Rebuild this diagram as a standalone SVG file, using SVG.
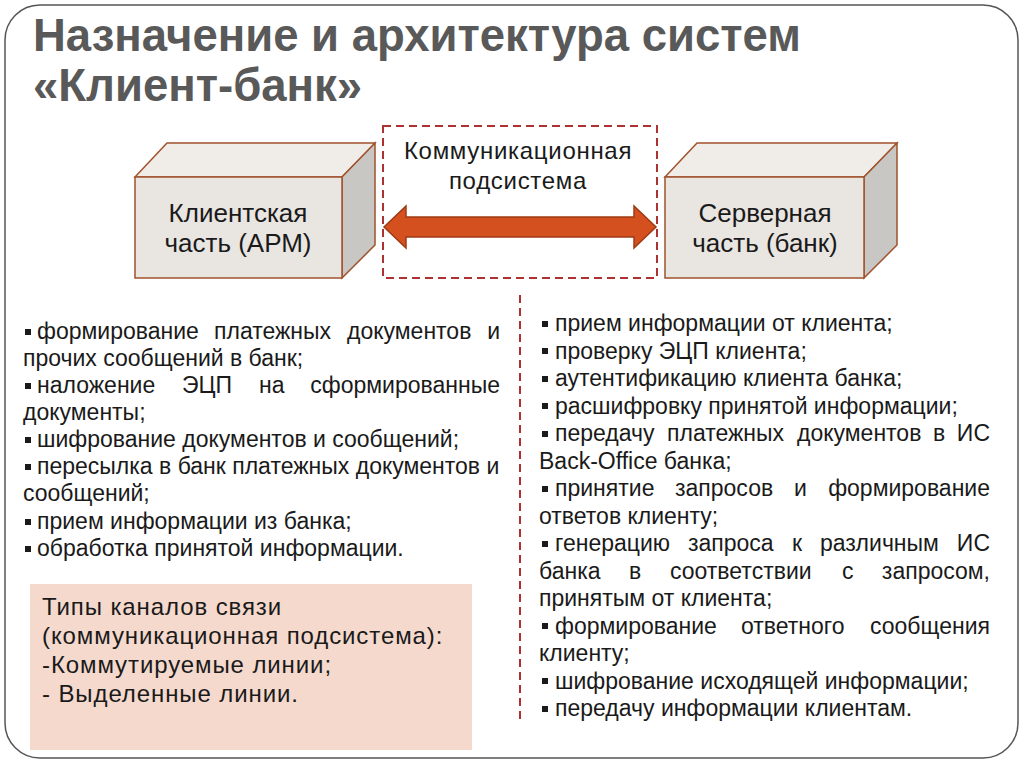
<svg xmlns="http://www.w3.org/2000/svg" xmlns:xlink="http://www.w3.org/1999/xlink" width="1024" height="767" viewBox="0 0 1024 767">
<style>
.t{font-family:"Liberation Sans",Arial,sans-serif;font-size:23px;fill:#1a1a1a}
.e{text-anchor:end}
.title{font-family:"Liberation Sans",Arial,sans-serif;font-size:45.5px;font-weight:bold;fill:#595959}
.lbl{font-family:"Liberation Sans",Arial,sans-serif;font-size:26px;fill:#1a1a1a;text-anchor:middle}
.cl{font-family:"Liberation Sans",Arial,sans-serif;font-size:24px;letter-spacing:0.7px;fill:#1a1a1a;text-anchor:middle}
.bx{font-family:"Liberation Sans",Arial,sans-serif;font-size:24px;letter-spacing:0.9px;fill:#1a1a1a}
.front{fill:#e9e5e1;stroke:#a0522d;stroke-width:1.5}
.top{fill:#f0ece8;stroke:#a0522d;stroke-width:1.5}
.side{fill:#c9c7c4;stroke:#a0522d;stroke-width:1.5}
.dash{fill:none;stroke:#ad3232;stroke-width:2;stroke-dasharray:8 5}
</style>
<defs>
<rect id="b" width="6" height="6" fill="#1a1a1a"/>
</defs>
<rect x="0" y="0" width="1024" height="767" fill="#ffffff"/>
<rect x="5" y="5" width="1013" height="753" rx="35" ry="35" fill="none" stroke="#555555" stroke-width="1.5"/>

<g id="title">
<text class="title" x="33" y="51">Назначение и архитектура систем</text>
<text class="title" x="33" y="101">«Клиент-банк»</text>
</g>

<g id="client-box">
<polygon class="top" points="135,177 167,143 375,143 342,177"/>
<polygon class="side" points="342,177 375,143 375,245 342,278"/>
<rect class="front" x="135" y="177" width="207" height="101"/>
<text class="lbl" x="238" y="222">Клиентская</text>
<text class="lbl" x="238" y="252">часть (АРМ)</text>
</g>

<g id="comm-subsystem">
<rect class="dash" x="383" y="126" width="274" height="152"/>
<text class="cl" x="518" y="159">Коммуникационная</text>
<text class="cl" x="518" y="189">подсистема</text>
</g>

<g id="server-box">
<polygon class="top" points="665,177 697,143 897,143 864,177"/>
<polygon class="side" points="864,177 897,143 897,245 864,278"/>
<rect class="front" x="665" y="177" width="199" height="101"/>
<text class="lbl" x="765" y="222">Серверная</text>
<text class="lbl" x="765" y="252">часть (банк)</text>
</g>

<g id="connectors">
<path d="M384,227 L406,206 L406,217 L634,217 L634,206 L656,227 L634,248 L634,237 L406,237 L406,248 Z" fill="#d4501e" stroke="#9e3a14" stroke-width="1.5" stroke-linejoin="miter"/>
<line class="dash" x1="520" y1="295" x2="520" y2="720"/>
</g>

<g id="client-functions">
<use xlink:href="#b" x="25" y="329"/>
<text class="t" y="339"><tspan x="37">формирование</tspan><tspan x="214">платежных</tspan><tspan x="347">документов</tspan><tspan class="e" x="500">и</tspan></text>
<text class="t" x="23" y="366">прочих сообщений в банк;</text>
<use xlink:href="#b" x="25" y="383"/>
<text class="t" y="393"><tspan x="37">наложение</tspan><tspan x="182">ЭЦП</tspan><tspan x="259">на</tspan><tspan class="e" x="500">сформированные</tspan></text>
<text class="t" x="23" y="420">документы;</text>
<use xlink:href="#b" x="25" y="437"/>
<text class="t" x="37" y="447">шифрование документов и сообщений;</text>
<use xlink:href="#b" x="25" y="464"/>
<text class="t" x="37" y="474">пересылка в банк платежных документов и</text>
<text class="t" x="23" y="501">сообщений;</text>
<use xlink:href="#b" x="25" y="519"/>
<text class="t" x="37" y="529">прием информации из банка;</text>
<use xlink:href="#b" x="25" y="546"/>
<text class="t" x="37" y="556">обработка принятой информации.</text>
</g>

<g id="server-functions">
<use xlink:href="#b" x="542" y="321"/>
<text class="t" x="555" y="331">прием информации от клиента;</text>
<use xlink:href="#b" x="542" y="348"/>
<text class="t" x="555" y="358.5">проверку ЭЦП клиента;</text>
<use xlink:href="#b" x="542" y="376"/>
<text class="t" x="555" y="386">аутентификацию клиента банка;</text>
<use xlink:href="#b" x="542" y="403"/>
<text class="t" x="555" y="413.5">расшифровку принятой информации;</text>
<use xlink:href="#b" x="542" y="431"/>
<text class="t" y="441"><tspan x="555">передачу</tspan><tspan x="667">платежных</tspan><tspan x="797">документов</tspan><tspan x="933">в</tspan><tspan class="e" x="990">ИС</tspan></text>
<text class="t" x="539" y="468.5">Back-Office банка;</text>
<use xlink:href="#b" x="542" y="486"/>
<text class="t" y="496"><tspan x="555">принятие</tspan><tspan x="675">запросов</tspan><tspan x="794">и</tspan><tspan class="e" x="990">формирование</tspan></text>
<text class="t" x="539" y="523.5">ответов клиенту;</text>
<use xlink:href="#b" x="542" y="541"/>
<text class="t" y="551"><tspan x="555">генерацию</tspan><tspan x="688">запроса</tspan><tspan x="792">к</tspan><tspan x="820">различным</tspan><tspan class="e" x="990">ИС</tspan></text>
<text class="t" y="578.5"><tspan x="539">банка</tspan><tspan x="629">в</tspan><tspan x="670">соответствии</tspan><tspan x="842">с</tspan><tspan class="e" x="990">запросом,</tspan></text>
<text class="t" x="539" y="606">принятым от клиента;</text>
<use xlink:href="#b" x="542" y="623"/>
<text class="t" y="633.5"><tspan x="555">формирование</tspan><tspan x="741">ответного</tspan><tspan class="e" x="990">сообщения</tspan></text>
<text class="t" x="539" y="661">клиенту;</text>
<use xlink:href="#b" x="542" y="678"/>
<text class="t" x="555" y="688.5">шифрование исходящей информации;</text>
<use xlink:href="#b" x="542" y="706"/>
<text class="t" x="555" y="716">передачу информации клиентам.</text>
</g>

<g id="channel-types">
<rect x="30" y="584" width="442" height="166" fill="#f5d9cd"/>
<text class="bx" x="42" y="615">Типы каналов связи</text>
<text class="bx" x="42" y="644">(коммуникационная подсистема):</text>
<text class="bx" x="42" y="673">-Коммутируемые линии;</text>
<text class="bx" x="42" y="702">- Выделенные линии.</text>
</g>
</svg>
